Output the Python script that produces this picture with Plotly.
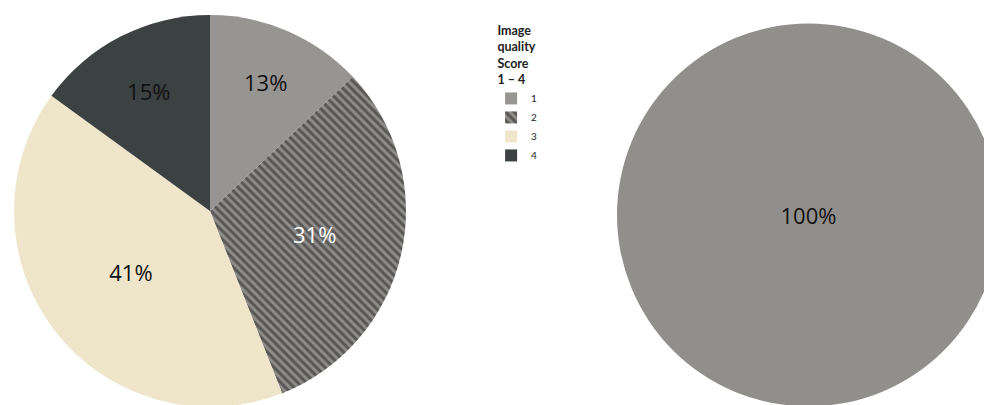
import plotly.graph_objects as go

# Data
score_labels = ["1", "2", "3", "4"]
left_values = [13, 31, 41, 15]
right_labels = ["1"]
right_values = [100]

slice_colors = ["#979591", "#8f8d8a", "#eee5ca", "#3c4141"]
slice_patterns = ["", "\\", "", ""]
text_colors = ["#111111", "#ffffff", "#111111", "#111111"]

font_family = "Open Sans, Lato, DejaVu Sans, sans-serif"
legend_family = "Lato, Open Sans, sans-serif"

fig = go.Figure()

fig.add_trace(go.Pie(
    labels=score_labels,
    values=left_values,
    sort=False,
    direction="clockwise",
    rotation=0,
    domain=dict(x=[0.006, 0.4012], y=[0.0148, 0.9827]),
    marker=dict(
        colors=slice_colors,
        line=dict(width=0),
        pattern=dict(shape=slice_patterns, fgcolor="#222222", bgcolor=slice_colors,
                     size=6, solidity=0.5, fillmode="overlay"),
    ),
    textinfo="percent",
    texttemplate="%{percent:.0%}",
    textposition="inside",
    insidetextorientation="horizontal",
    textfont=dict(family=font_family, size=22, color=text_colors),
    hoverinfo="label+percent",
    showlegend=True,
))

fig.add_trace(go.Pie(
    labels=right_labels,
    values=right_values,
    sort=False,
    direction="clockwise",
    rotation=0,
    domain=dict(x=[0.6139, 1.0], y=[0.016, 0.9617]),
    marker=dict(colors=["#918f8c"], line=dict(width=0)),
    textinfo="percent",
    texttemplate="%{percent:.0%}",
    textposition="inside",
    insidetextorientation="horizontal",
    textfont=dict(family=font_family, size=22, color="#111111"),
    hoverinfo="label+percent",
    showlegend=False,
))

fig.update_layout(
    width=992,
    height=405,
    margin=dict(l=0, r=0, t=0, b=0),
    paper_bgcolor="white",
    plot_bgcolor="white",
    font=dict(family=font_family, color="#222222"),
    legend=dict(
        title=dict(text="<b>Image<br>quality<br>Score<br>1 – 4</b>", side="top center",
                   font=dict(family=legend_family, size=12.5, color="#222222")),
        x=0.487, y=0.973, xanchor="left", yanchor="top",
        font=dict(family=legend_family, size=10, color="#222222"),
        itemwidth=30,
        bgcolor="rgba(0,0,0,0)",
        tracegroupgap=0,
    ),
)

fig.write_html("out.html")
